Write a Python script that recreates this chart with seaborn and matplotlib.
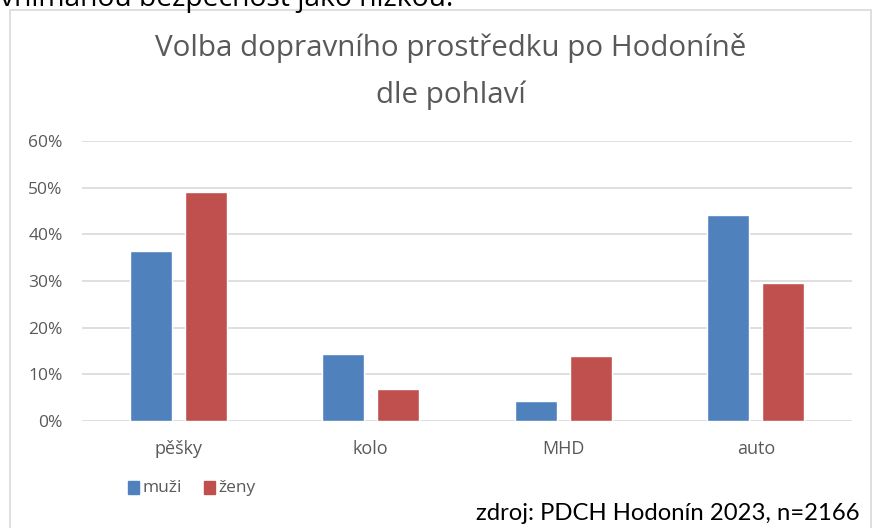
import matplotlib
matplotlib.use("Agg")
import matplotlib.pyplot as plt
import seaborn as sns
import pandas as pd
from matplotlib.patches import Rectangle
from matplotlib.ticker import PercentFormatter

categories = ["pěšky", "kolo", "MHD", "auto"]
muzi = [36.5, 14.3, 4.3, 44.2]
zeny = [49.0, 6.9, 14.0, 29.5]
series_names = ["muži", "ženy"]
yticks = [0, 10, 20, 30, 40, 50, 60]

df = pd.DataFrame({
    "kategorie": categories * 2,
    "podil": muzi + zeny,
    "pohlavi": [series_names[0]] * 4 + [series_names[1]] * 4,
})

sns.set_theme(style="white")
plt.rcParams["font.family"] = ["Open Sans", "DejaVu Sans"]

W, H = 872, 528
fig = plt.figure(figsize=(W / 100, H / 100), dpi=100)
fig.patch.set_facecolor("white")

# chart frame
fig.add_artist(Rectangle((10 / W, -0.05), (871 - 10) / W, (H - 10) / H + 0.05,
                         transform=fig.transFigure, fill=False,
                         edgecolor="#D9D9D9", linewidth=1.2))

ax = fig.add_axes([82 / W, 1 - 421 / H, (852 - 82) / W, (421 - 141) / H])
palette = {"muži": "#4F81BD", "ženy": "#C0504D"}
sns.barplot(data=df, x="kategorie", y="podil", hue="pohlavi", palette=palette,
            width=0.57, gap=0.24, ax=ax, legend=False, saturation=1)

ax.set_ylim(0, 60)
ax.set_yticks(yticks)
ax.yaxis.set_major_formatter(PercentFormatter(decimals=0))
ax.grid(axis="y", color="#D9D9D9", linewidth=1.2)
ax.set_axisbelow(True)
for s in ax.spines.values():
    s.set_visible(False)
ax.set_xlabel("")
ax.set_ylabel("")
ax.tick_params(axis="y", labelsize=12.5, labelcolor="#595959", length=0, pad=14)
ax.tick_params(axis="x", labelsize=13, labelcolor="#595959", length=0, pad=14)

fig.text(451 / W, 1 - 48 / H, "Volba dopravního prostředku po Hodoníně",
         ha="center", va="center", fontsize=21.3, color="#595959")
fig.text(451 / W, 1 - 95 / H, "dle pohlaví",
         ha="center", va="center", fontsize=21.3, color="#595959")

# legend
for i, (name, col) in enumerate(palette.items()):
    x0 = 128 + i * 76
    fig.add_artist(Rectangle((x0 / W, 1 - 494 / H), 11 / W, 13 / H,
                             transform=fig.transFigure, color=col))
    fig.text((x0 + 14) / W, 1 - 488 / H, name, ha="left", va="center",
             fontsize=12.5, color="#595959")

fig.text(860 / W, 1 - 514 / H, "zdroj: PDCH Hodonín 2023, n=2166",
         ha="right", va="center", fontsize=17.2, color="black",
         family=["Lato", "DejaVu Sans"])

# cropped text of the surrounding page
fig.text(0, 1 - 6 / H, "vnímanou bezpečnost jako nízkou.", ha="left",
         va="baseline", fontsize=20.3, color="black")

fig.savefig("out.png", dpi=100)
